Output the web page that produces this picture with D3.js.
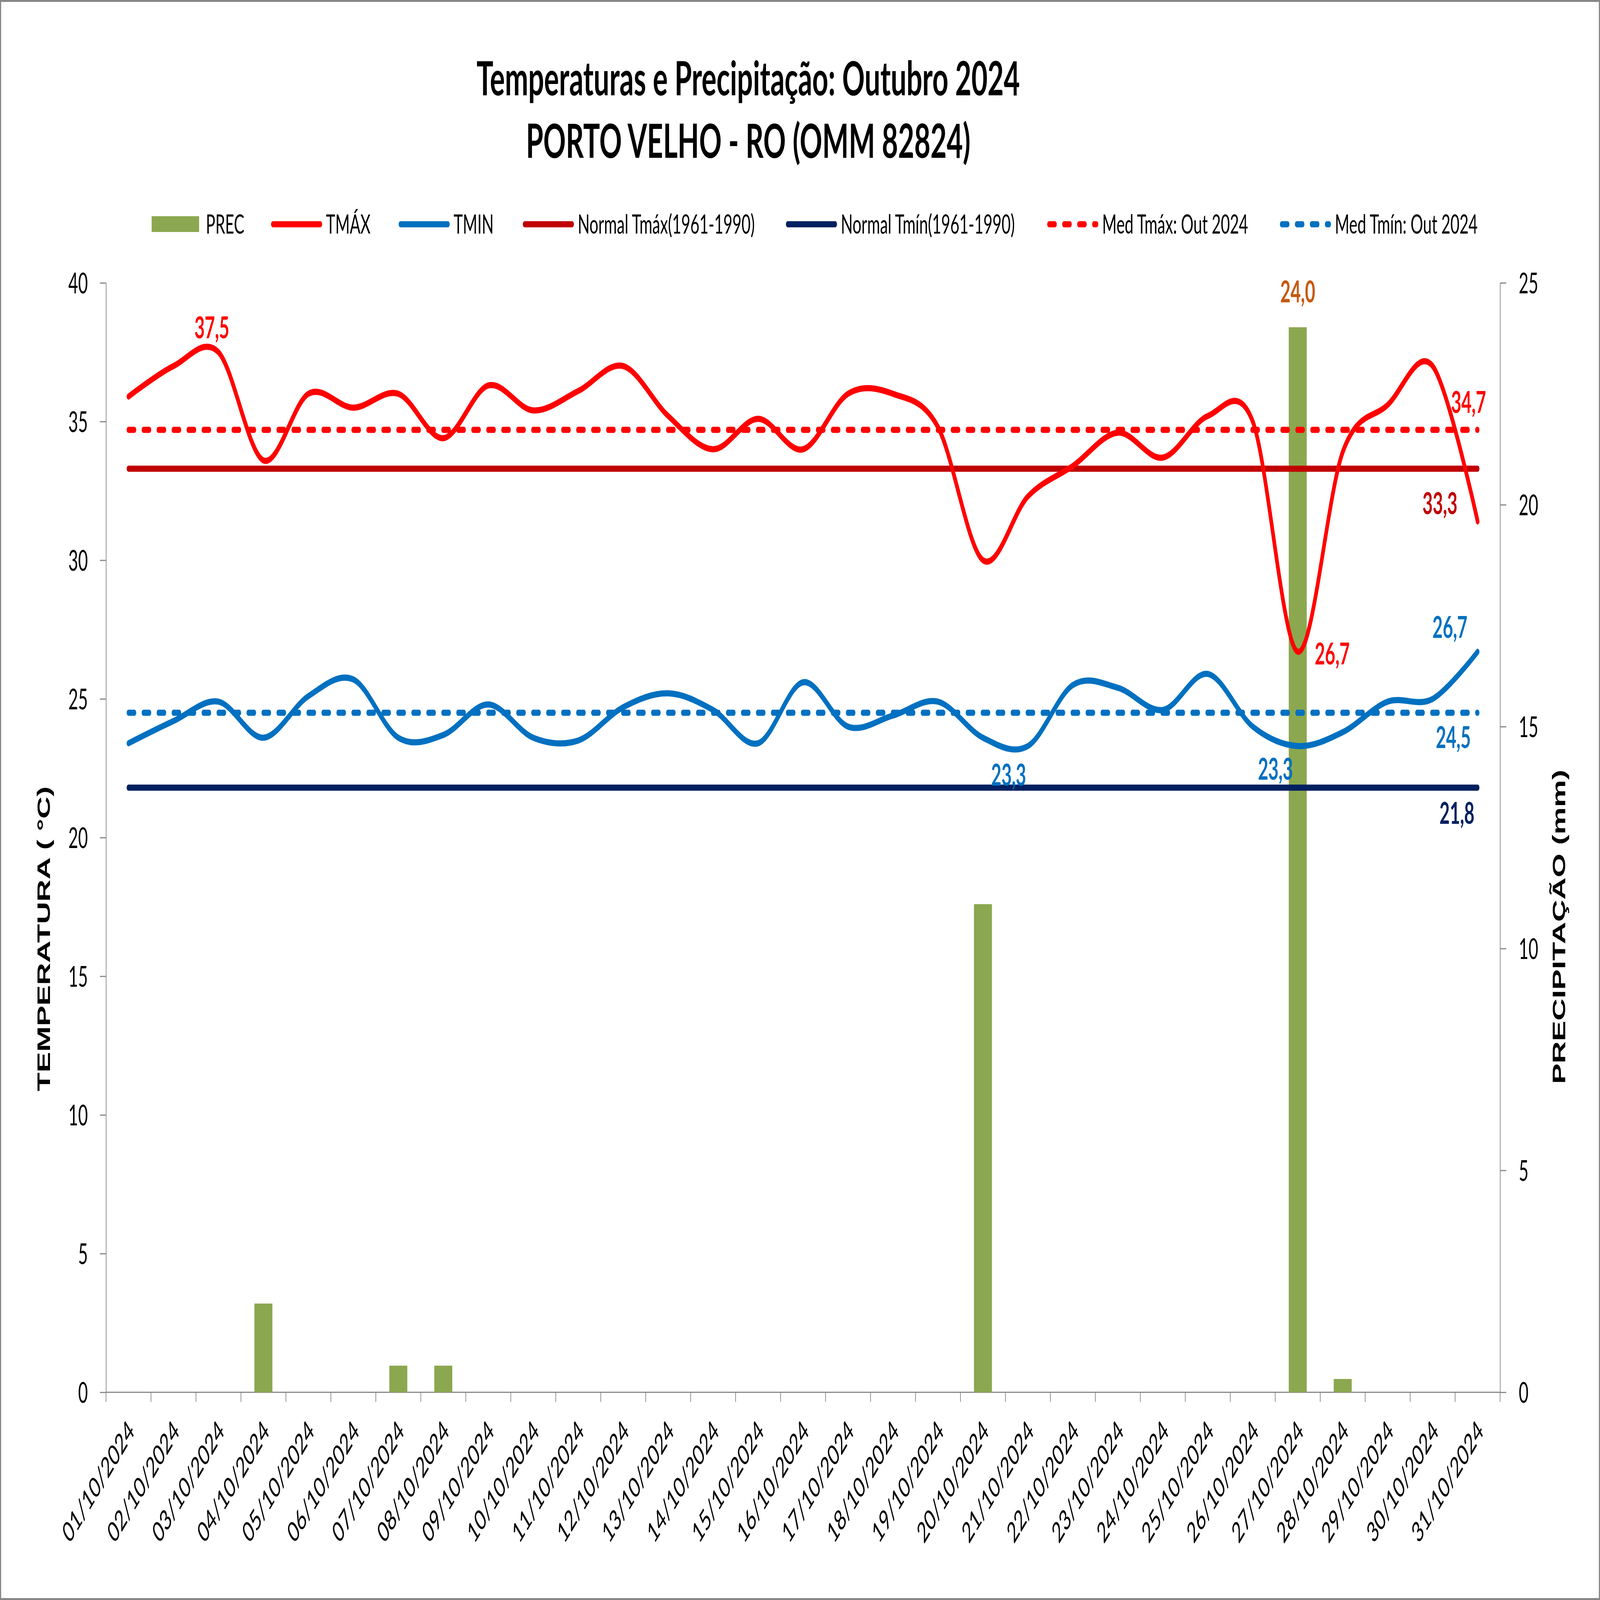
<!DOCTYPE html>
<html lang="pt">
<head>
<meta charset="UTF-8">
<title>Temperaturas e Precipitação: Outubro 2024</title>
<script src="https://cdn.jsdelivr.net/npm/d3@7"></script>
<style>
  html, body { margin: 0; padding: 0; width: 100%; height: 100%; overflow: hidden; background: #fff; }
  #chart { display: block; width: 100vw; height: 100vh; }
  svg text { font-family: Lato, "Open Sans", sans-serif; fill: #000; }
  .titulo { font-weight: bold; font-size: 123px; text-anchor: middle; }
  .legenda text { font-size: 69px; }
  .eixo text { font-size: 74px; }
  .eixo path, .eixo line { stroke: #868686; stroke-width: 3; }
  .rotulo { font-weight: bold; font-size: 78px; text-anchor: middle; }
  .titulo-eixo { font-family: "Liberation Sans", Arial, sans-serif !important; font-weight: bold; font-size: 80px; text-anchor: middle; }
</style>
</head>
<body>
<svg id="chart" viewBox="0 0 7048 4152" preserveAspectRatio="none"></svg>
<script>
// dias de outubro/2024 - Porto Velho (OMM 82824)
var dias = ['01/10/2024', '02/10/2024', '03/10/2024', '04/10/2024', '05/10/2024', '06/10/2024',
  '07/10/2024', '08/10/2024', '09/10/2024', '10/10/2024', '11/10/2024', '12/10/2024',
  '13/10/2024', '14/10/2024', '15/10/2024', '16/10/2024', '17/10/2024', '18/10/2024',
  '19/10/2024', '20/10/2024', '21/10/2024', '22/10/2024', '23/10/2024', '24/10/2024',
  '25/10/2024', '26/10/2024', '27/10/2024', '28/10/2024', '29/10/2024', '30/10/2024', '31/10/2024'];

var tmax = [35.9, 37.0, 37.5, 33.6, 36.0, 35.5, 36.0, 34.4, 36.3, 35.4, 36.1, 37.0, 35.2, 34.0, 35.1, 34.0,
  36.0, 36.0, 34.8, 30.0, 32.3, 33.4, 34.6, 33.7, 35.2, 35.0, 26.7, 33.9, 35.6, 37.0, 31.4];
var tmin = [23.4, 24.2, 24.9, 23.6, 25.1, 25.7, 23.6, 23.7, 24.8, 23.6, 23.5, 24.7, 25.2, 24.6, 23.4, 25.6,
  24.0, 24.4, 24.9, 23.6, 23.3, 25.5, 25.4, 24.6, 25.9, 24.0, 23.3, 23.8, 24.9, 25.0, 26.7];
var prec = [0, 0, 0, 2.0, 0, 0, 0.6, 0.6, 0, 0, 0, 0, 0, 0, 0, 0,
  0, 0, 0, 11.0, 0, 0, 0, 0, 0, 0, 24.0, 0.3, 0, 0, 0];

var normalTmax = 33.3;   // normal 1961-1990
var normalTmin = 21.8;
var medTmax = 34.7;      // media do mes
var medTmin = 24.5;

var ticksTemp = [0, 5, 10, 15, 20, 25, 30, 35, 40];
var ticksPrec = [0, 5, 10, 15, 20, 25];

// ---------------------------------------------------------------
var svg = d3.select('#chart');
var area = { left: 467, right: 6608, top: 734, bottom: 3613 };

var x = d3.scaleBand().domain(dias).range([area.left, area.right])
  .paddingInner(0.6).paddingOuter(0.3);
var xc = function (d) { return x(d) + x.bandwidth() / 2; };
var yT = d3.scaleLinear().domain([0, 40]).range([area.bottom, area.top]);
var yP = d3.scaleLinear().domain([0, 25]).range([area.bottom, area.top]);

var virgula = function (v) { return d3.format('.1f')(v).replace('.', ','); };

// moldura
svg.append('rect')
  .attr('x', 2.5).attr('y', 2.5).attr('width', 7043).attr('height', 4147)
  .attr('fill', '#fff').attr('stroke', '#868686').attr('stroke-width', 5);

// titulo
svg.append('text').attr('class', 'titulo').attr('x', 3296).attr('y', 247)
  .text('Temperaturas e Precipitação: Outubro 2024');
svg.append('text').attr('class', 'titulo').attr('x', 3296).attr('y', 410)
  .text('PORTO VELHO - RO (OMM 82824)');

// eixos
svg.append('g').attr('class', 'eixo')
  .attr('transform', 'translate(' + area.left + ',0)')
  .call(d3.axisLeft(yT).tickValues(ticksTemp).tickSize(27).tickSizeOuter(0).tickPadding(53));
svg.append('g').attr('class', 'eixo')
  .attr('transform', 'translate(' + area.right + ',0)')
  .call(d3.axisRight(yP).tickValues(ticksPrec).tickSize(27).tickSizeOuter(0).tickPadding(55));
svg.selectAll('.eixo').attr('font-family', null).attr('font-size', null);
svg.selectAll('.eixo text').attr('dy', '0.36em');

// eixo das categorias
var eixoX = svg.append('g').attr('class', 'eixo');
eixoX.append('line')
  .attr('x1', area.left).attr('x2', area.right)
  .attr('y1', area.bottom).attr('y2', area.bottom);
eixoX.selectAll('line.div')
  .data(d3.range(dias.length + 1))
  .enter().append('line').attr('class', 'div')
  .attr('x1', function (i) { return area.left + i * x.step(); })
  .attr('x2', function (i) { return area.left + i * x.step(); })
  .attr('y1', area.bottom).attr('y2', area.bottom + 25);
eixoX.selectAll('text')
  .data(dias)
  .enter().append('text')
  .attr('text-anchor', 'end')
  .attr('font-size', 76)
  .attr('transform', function (d) {
    return 'translate(' + (xc(d) + 30) + ',' + (area.bottom + 105) + ') rotate(-45)';
  })
  .text(function (d) { return d; });

// barras de precipitacao
svg.append('g').selectAll('rect')
  .data(prec)
  .enter().append('rect')
  .attr('x', function (d, i) { return x(dias[i]); })
  .attr('y', function (d) { return yP(d); })
  .attr('width', x.bandwidth())
  .attr('height', function (d) { return area.bottom - yP(d); })
  .attr('fill', '#8BA74F');

// linhas
var curva = d3.line()
  .x(function (d, i) { return xc(dias[i]); })
  .y(function (d) { return yT(d); })
  .curve(d3.curveCatmullRom.alpha(0));
var reta = d3.line()
  .x(function (d, i) { return xc(dias[i]); })
  .y(function (d) { return yT(d); });

var constante = function (v) { return dias.map(function () { return v; }); };

var series = [
  { nome: 'Normal Tmáx(1961-1990)', valores: constante(normalTmax), cor: '#C00000', gerador: reta },
  { nome: 'Normal Tmín(1961-1990)', valores: constante(normalTmin), cor: '#002060', gerador: reta },
  { nome: 'Med Tmáx: Out 2024', valores: constante(medTmax), cor: '#FF0000', gerador: reta, tracejado: '26 40' },
  { nome: 'Med Tmín: Out 2024', valores: constante(medTmin), cor: '#0070C0', gerador: reta, tracejado: '26 40' },
  { nome: 'TMÁX', valores: tmax, cor: '#FF0000', gerador: curva },
  { nome: 'TMIN', valores: tmin, cor: '#0070C0', gerador: curva }
];

svg.append('g').selectAll('path')
  .data(series)
  .enter().append('path')
  .attr('d', function (s) { return s.gerador(s.valores); })
  .attr('fill', 'none')
  .attr('stroke', function (s) { return s.cor; })
  .attr('stroke-width', 16)
  .attr('stroke-linecap', 'round')
  .attr('stroke-linejoin', 'round')
  .attr('stroke-dasharray', function (s) { return s.tracejado || null; });

// rotulos de dados (deslocamentos em px a partir do ponto)
var rotulos = [
  { i: 2, v: tmax[2], esc: yT, cor: '#FF0000', dx: -29, dy: -36 },
  { i: 26, v: prec[26], esc: yP, cor: '#C55A11', dx: 0, dy: -65 },
  { i: 30, v: medTmax, esc: yT, cor: '#FF0000', dx: -40, dy: -44 },
  { i: 30, v: normalTmax, esc: yT, cor: '#C00000', dx: -166, dy: 118 },
  { i: 26, v: tmax[26], esc: yT, cor: '#FF0000', dx: 152, dy: 33 },
  { i: 30, v: tmin[30], esc: yT, cor: '#0070C0', dx: -122, dy: -36 },
  { i: 30, v: medTmin, esc: yT, cor: '#0070C0', dx: -107, dy: 92 },
  { i: 30, v: normalTmin, esc: yT, cor: '#002060', dx: -91, dy: 94 },
  { i: 20, v: tmin[20], esc: yT, cor: '#0070C0', dx: -85, dy: 103 },
  { i: 26, v: tmin[26], esc: yT, cor: '#0070C0', dx: -98, dy: 87 }
];
svg.append('g').selectAll('text')
  .data(rotulos)
  .enter().append('text')
  .attr('class', 'rotulo')
  .attr('x', function (r) { return xc(dias[r.i]) + r.dx; })
  .attr('y', function (r) { return r.esc(r.v) + r.dy; })
  .style('fill', function (r) { return r.cor; })
  .text(function (r) { return virgula(r.v); });

// titulos dos eixos
svg.append('text').attr('class', 'titulo-eixo')
  .attr('transform', 'translate(220,2436) rotate(-90)')
  .text('TEMPERATURA  ( °C)');
svg.append('text').attr('class', 'titulo-eixo')
  .attr('transform', 'translate(6895,2405) rotate(-90)')
  .text('PRECIPITAÇÃO  (mm)');

// legenda
var itensLegenda = [
  { nome: 'PREC', cor: '#8BA74F', tipo: 'barra', x: 668 },
  { nome: 'TMÁX', cor: '#FF0000', tipo: 'linha', x: 1194 },
  { nome: 'TMIN', cor: '#0070C0', tipo: 'linha', x: 1756 },
  { nome: 'Normal Tmáx(1961-1990)', cor: '#C00000', tipo: 'linha', x: 2303 },
  { nome: 'Normal Tmín(1961-1990)', cor: '#002060', tipo: 'linha', x: 3462 },
  { nome: 'Med Tmáx: Out 2024', cor: '#FF0000', tipo: 'tracejado', x: 4613 },
  { nome: 'Med Tmín: Out 2024', cor: '#0070C0', tipo: 'tracejado', x: 5638 }
];
var leg = svg.append('g').attr('class', 'legenda')
  .selectAll('g').data(itensLegenda).enter().append('g')
  .attr('transform', function (d) { return 'translate(' + d.x + ',582)'; });
leg.filter(function (d) { return d.tipo === 'barra'; })
  .append('rect').attr('x', 0).attr('y', -21).attr('width', 209).attr('height', 41)
  .attr('fill', function (d) { return d.cor; });
leg.filter(function (d) { return d.tipo !== 'barra'; })
  .append('line').attr('x1', 8).attr('x2', 217).attr('y1', 0).attr('y2', 0)
  .attr('stroke', function (d) { return d.cor; })
  .attr('stroke-width', 16).attr('stroke-linecap', 'round')
  .attr('stroke-dasharray', function (d) { return d.tipo === 'tracejado' ? '26 40' : null; });
leg.append('text')
  .attr('x', function (d) { return d.tipo === 'barra' ? 239 : 242; })
  .attr('y', 24)
  .text(function (d) { return d.nome; });
</script>
</body>
</html>
